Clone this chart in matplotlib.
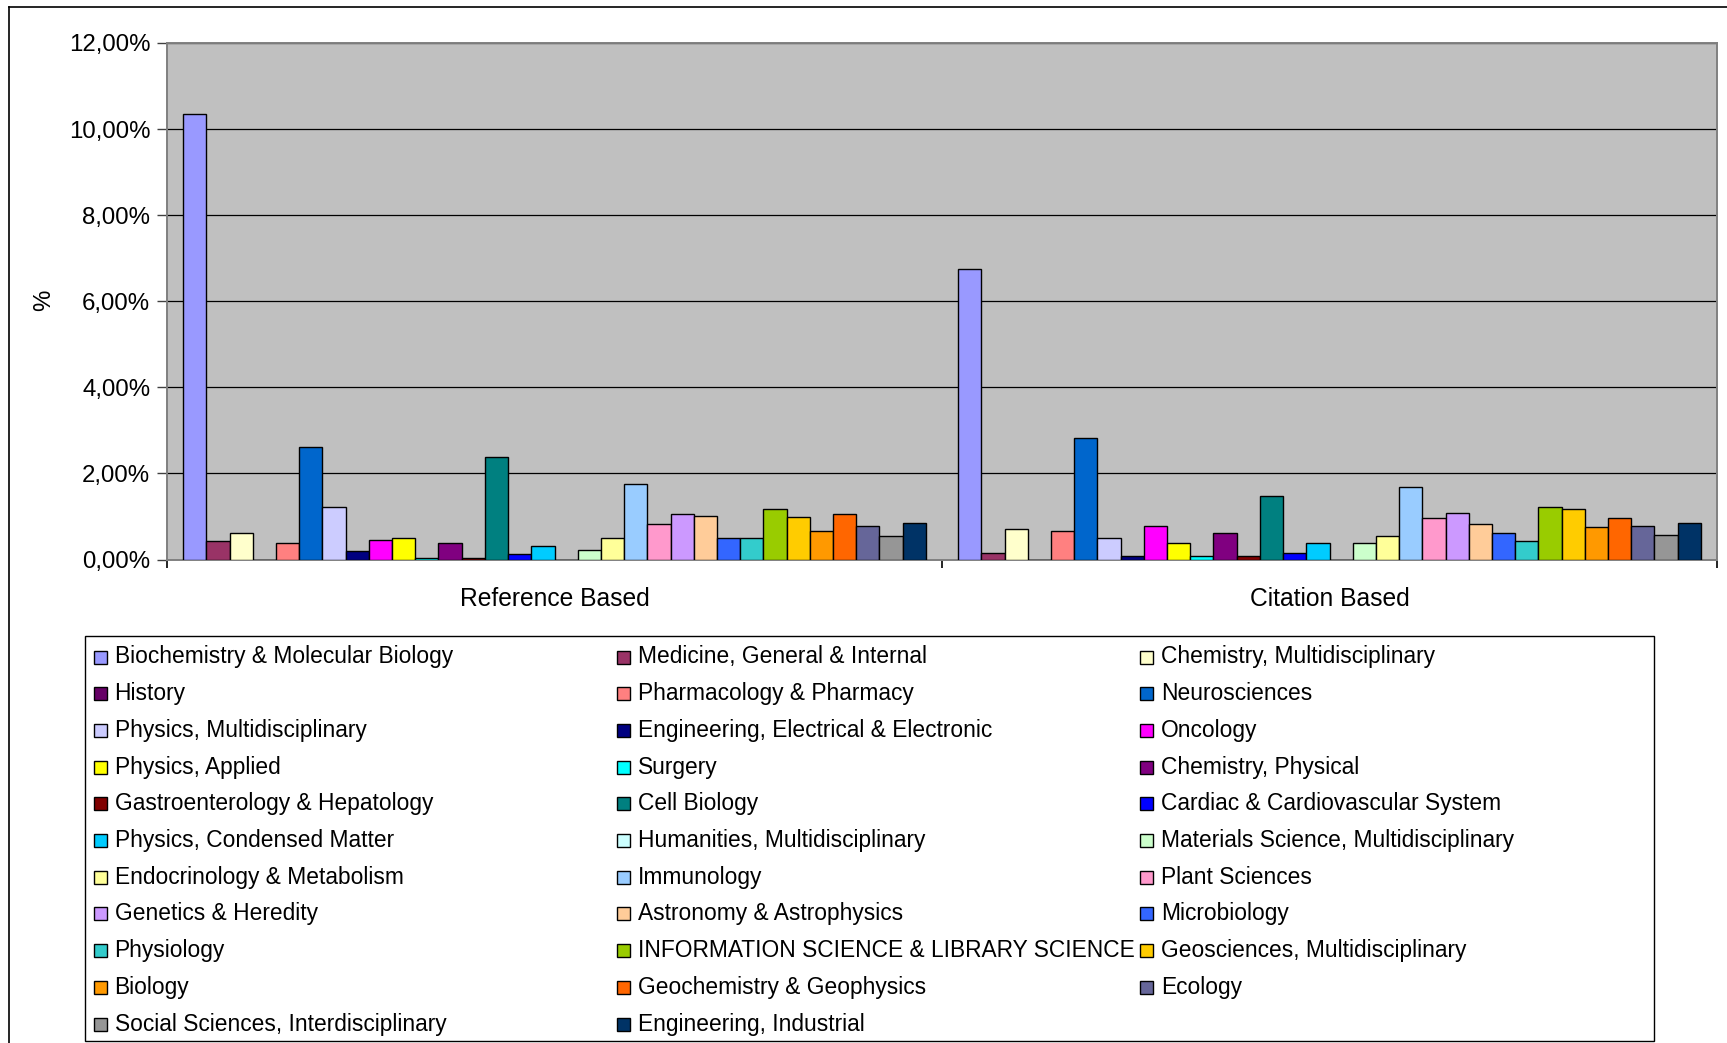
"""Grouped bar chart: subject categories, reference vs citation based."""
import matplotlib.pyplot as plt
from matplotlib.patches import Rectangle
from matplotlib.lines import Line2D
from matplotlib.ticker import FuncFormatter
import numpy as np

plt.rcParams["font.family"] = ["Liberation Sans", "DejaVu Sans"]

groups = ["Reference Based", "Citation Based"]

categories = [
    "Biochemistry & Molecular Biology", "Medicine, General & Internal", "Chemistry, Multidisciplinary",
    "History", "Pharmacology & Pharmacy", "Neurosciences",
    "Physics, Multidisciplinary", "Engineering, Electrical & Electronic", "Oncology",
    "Physics, Applied", "Surgery", "Chemistry, Physical",
    "Gastroenterology & Hepatology", "Cell Biology", "Cardiac & Cardiovascular System",
    "Physics, Condensed Matter", "Humanities, Multidisciplinary", "Materials Science, Multidisciplinary",
    "Endocrinology & Metabolism", "Immunology", "Plant Sciences",
    "Genetics & Heredity", "Astronomy & Astrophysics", "Microbiology",
    "Physiology", "INFORMATION SCIENCE & LIBRARY SCIENCE", "Geosciences, Multidisciplinary",
    "Biology", "Geochemistry & Geophysics", "Ecology",
    "Social Sciences, Interdisciplinary", "Engineering, Industrial",
]

colors = [
    "#9999FF", "#993366", "#FFFFCC", "#660066", "#FF8080", "#0066CC",
    "#CCCCFF", "#000080", "#FF00FF", "#FFFF00", "#00FFFF", "#800080",
    "#800000", "#008080", "#0000FF", "#00CCFF", "#CCFFFF", "#CCFFCC",
    "#FFFF99", "#99CCFF", "#FF99CC", "#CC99FF", "#FFCC99", "#3366FF",
    "#33CCCC", "#99CC00", "#FFCC00", "#FF9900", "#FF6600", "#666699",
    "#969696", "#003366",
]

# values in percent
reference_based = [
    10.35, 0.42, 0.62, 0.0, 0.38, 2.62, 1.21, 0.19, 0.46, 0.51, 0.04, 0.38,
    0.03, 2.38, 0.12, 0.31, 0.0, 0.23, 0.51, 1.76, 0.82, 1.05, 1.01, 0.51,
    0.51, 1.18, 0.98, 0.66, 1.05, 0.78, 0.55, 0.85,
]
citation_based = [
    6.75, 0.16, 0.70, 0.0, 0.66, 2.82, 0.51, 0.08, 0.78, 0.38, 0.08, 0.62,
    0.08, 1.48, 0.16, 0.38, 0.0, 0.38, 0.54, 1.68, 0.97, 1.09, 0.82, 0.62,
    0.42, 1.21, 1.17, 0.75, 0.97, 0.78, 0.58, 0.85,
]

W, H = 1727, 1043
FS = 17.3      # axis text
FS_LEG = 16.4  # legend text

fig = plt.figure(figsize=(W / 100, H / 100), dpi=100)
ax = fig.add_axes([167 / W, 1 - 559.5 / H, (1717 - 167) / W, (559.5 - 43) / H])
ax.set_facecolor("#C0C0C0")

n = len(categories)
bw = 1 / 33.4
xg = np.arange(len(groups))
for j in range(n):
    ax.bar(xg + (j - (n - 1) / 2) * bw, [reference_based[j], citation_based[j]],
           width=bw, color=colors[j], edgecolor="black", linewidth=1.0, zorder=3)

ax.set_xlim(-0.5, 1.5)
ax.set_ylim(0, 12)
ax.set_yticks(np.arange(0, 13, 2))
ax.yaxis.set_major_formatter(FuncFormatter(lambda v, _: f"{v:.2f}%".replace(".", ",")))
ax.grid(axis="y", color="black", linewidth=0.9, zorder=1)
ax.set_axisbelow(True)

ax.set_xticks([-0.5, 0.5, 1.5])
ax.set_xticklabels([])
ax.set_xticks(xg, minor=True)
ax.set_xticklabels(groups, minor=True)
ax.tick_params(axis="x", which="major", length=6, width=1.2, color="black")
ax.tick_params(axis="x", which="minor", length=0, pad=20, labelsize=17.7)
ax.tick_params(axis="y", length=7, width=1.0, pad=5, labelsize=FS, color="#404040")

for s in ax.spines.values():
    s.set_color("#808080")
    s.set_linewidth(1.4)

fig.text(44 / W, 1 - 300 / H, "%", rotation=90, fontsize=FS, ha="center", va="center")

# legend box, laid out row by row in three fixed columns like the original
fig.add_artist(Rectangle((85 / W, 1 - 1041 / H), (1654 - 85) / W, (1041 - 635.5) / H,
                         transform=fig.transFigure, facecolor="white",
                         edgecolor="black", linewidth=1.0))
sw_x = [93.6, 616.8, 1140]
tx_x = [114.5, 637.7, 1161]
sq = 13
for k, (cat, col) in enumerate(zip(categories, colors)):
    r, c = divmod(k, 3)
    yc = 657 + r * 36.7
    fig.add_artist(Rectangle((sw_x[c] / W, 1 - (yc + sq / 2) / H), sq / W, sq / H,
                             transform=fig.transFigure, facecolor=col,
                             edgecolor="black", linewidth=1.0))
    fig.text(tx_x[c] / W, 1 - yc / H, cat, fontsize=FS_LEG, ha="left", va="center")

# outer chart-area border (left and top only are visible)
fig.add_artist(Line2D([8.5 / W, 8.5 / W], [0, 1 - 6.5 / H], transform=fig.transFigure,
                      color="black", linewidth=1.2))
fig.add_artist(Line2D([8.5 / W, 1], [1 - 6.5 / H, 1 - 6.5 / H], transform=fig.transFigure,
                      color="black", linewidth=1.2))

fig.savefig("out.png", dpi=100)
